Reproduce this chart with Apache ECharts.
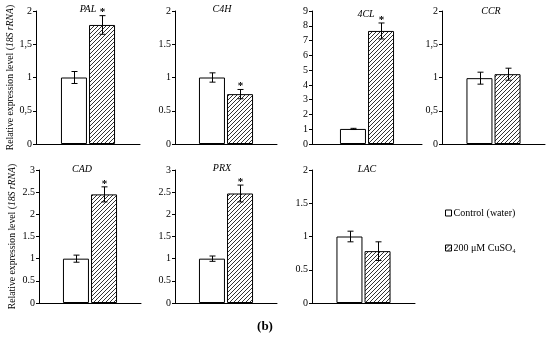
<!DOCTYPE html>
<html><head><meta charset="utf-8">
<script src="https://cdn.jsdelivr.net/npm/echarts@6/dist/echarts.min.js"></script>
<style>html,body{margin:0;padding:0;background:#fff}#c{width:550px;height:339px}</style>
</head><body><div id="c"></div>
<script>
// ---- data ----
const genes = ['PAL', 'C4H', '4CL', 'CCR', 'CAD', 'PRX', 'LAC'];
const control = [1.00, 1.00, 1.02, 0.99, 1.00, 1.00, 1.00];
const controlErr = [0.09, 0.07, 0.04, 0.09, 0.08, 0.06, 0.08];
const treated = [1.79, 0.75, 7.65, 1.05, 2.45, 2.47, 0.78];
const treatedErr = [0.14, 0.07, 0.54, 0.09, 0.17, 0.19, 0.14];
const significant = [1, 1, 1, 0, 1, 1, 0];
const yMax = [2, 2, 9, 2, 3, 3, 2];
const yInterval = [0.5, 0.5, 1, 0.5, 0.5, 0.5, 0.5];
const decimalSep = [',', '.', '.', ',', '.', '.', '.'];
const seriesNames = ['Control (water)', '200 μM CuSO₄'];
const yLabel = ['Relative expression level (', '18S rRNA', ')'];
const panelLabel = '(b)';

// ---- layout ----
const grids = [
  {left: 36, top: 11, width: 104, height: 133},
  {left: 175, top: 11, width: 102, height: 133},
  {left: 312, top: 11, width: 110, height: 133},
  {left: 442, top: 11, width: 103, height: 133},
  {left: 39, top: 170, width: 102, height: 133},
  {left: 175, top: 170, width: 102, height: 133},
  {left: 312, top: 170, width: 103, height: 133}
];
const titlePos = [[88, 4], [222, 4], [366, 9], [491, 6], [82, 164], [222, 163], [367, 164]];
const FONT = '"Liberation Serif", "DejaVu Serif", serif';
const BW = 26, HALF = 14;

function hatch() {
  const c = document.createElement('canvas');
  c.width = 4; c.height = 4;
  const ctx = c.getContext('2d');
  ctx.fillStyle = '#fff'; ctx.fillRect(0, 0, 4, 4);
  ctx.strokeStyle = '#333'; ctx.lineWidth = 1;
  ctx.beginPath();
  ctx.moveTo(0, 4); ctx.lineTo(4, 0);
  ctx.moveTo(-1, 1); ctx.lineTo(1, -1);
  ctx.moveTo(3, 5); ctx.lineTo(5, 3);
  ctx.stroke();
  return c;
}
const hatchFill = {image: hatch(), repeat: 'repeat'};

const option = {
  animation: false,
  backgroundColor: '#fff',
  title: genes.map((g, i) => ({
    text: g, left: titlePos[i][0], top: titlePos[i][1], textAlign: 'center', padding: 0,
    textStyle: {fontFamily: FONT, fontStyle: 'italic', fontWeight: 'normal', fontSize: 10, color: '#000'}
  })).concat([{
    text: panelLabel, left: 265, top: 320, textAlign: 'center', padding: 0,
    textStyle: {fontFamily: FONT, fontWeight: 'bold', fontSize: 13, color: '#000'}
  }]),
  legend: {
    orient: 'vertical', left: 445, top: 208, itemGap: 25, padding: 0,
    itemWidth: 6, itemHeight: 6, icon: 'rect',
    data: seriesNames,
    textStyle: {fontFamily: FONT, fontSize: 10, color: '#000', padding: [0, 0, 0, -3]},
    itemStyle: {borderColor: '#000', borderWidth: 1}
  },
  grid: grids,
  xAxis: grids.map((g, i) => ({
    type: 'category', gridIndex: i, data: [genes[i]],
    axisLine: {lineStyle: {color: '#000', width: 1}},
    axisTick: {show: false}, axisLabel: {show: false}
  })),
  yAxis: grids.map((g, i) => {
    const ax = {
      type: 'value', gridIndex: i, min: 0, max: yMax[i], interval: yInterval[i],
      axisLine: {show: true, lineStyle: {color: '#000', width: 1}},
      axisTick: {show: true, length: 3, lineStyle: {color: '#000'}},
      splitLine: {show: false},
      axisLabel: {fontFamily: FONT, fontSize: 10, color: '#000', margin: 4,
        formatter: v => String(v).replace('.', decimalSep[i])}
    };
    if (i === 0 || i === 4) {
      ax.name = '{a|' + yLabel[0] + '}{b|' + yLabel[1] + '}{a|' + yLabel[2] + '}';
      ax.nameLocation = 'middle';
      ax.nameRotate = 90;
      ax.nameGap = i === 0 ? 19 : 22;
      ax.nameTextStyle = {rich: {
        a: {fontFamily: FONT, fontSize: 9.7, color: '#000'},
        b: {fontFamily: FONT, fontSize: 9.7, color: '#000', fontStyle: 'italic'}
      }};
    }
    return ax;
  }),
  series: []
};

genes.forEach((g, i) => {
  option.series.push({
    type: 'bar', name: seriesNames[0], xAxisIndex: i, yAxisIndex: i,
    data: [control[i]], barWidth: BW, barGap: '8%',
    itemStyle: {color: '#fff', borderColor: '#000', borderWidth: 1}
  });
  option.series.push({
    type: 'bar', name: seriesNames[1], xAxisIndex: i, yAxisIndex: i,
    data: [treated[i]], barWidth: BW, barGap: '8%',
    itemStyle: {color: hatchFill, borderColor: '#000', borderWidth: 1}
  });
  option.series.push({
    type: 'custom', name: 'err' + i, xAxisIndex: i, yAxisIndex: i, z: 5,
    data: [[0, control[i], controlErr[i], -1, 0], [0, treated[i], treatedErr[i], 1, significant[i]]],
    renderItem: function (params, api) {
      const v = api.value(1), e = api.value(2), side = api.value(3), sig = api.value(4);
      const c = api.coord([api.value(0), v]);
      const x = Math.round(c[0] + side * HALF) + 0.5;
      const top = api.coord([0, v + e])[1];
      const bot = api.coord([0, v - e])[1];
      const ls = {stroke: '#000', lineWidth: 1};
      const ch = [
        {type: 'line', shape: {x1: x, y1: top, x2: x, y2: bot}, style: ls},
        {type: 'line', shape: {x1: x - 3, y1: top, x2: x + 3, y2: top}, style: ls},
        {type: 'line', shape: {x1: x - 3, y1: bot, x2: x + 3, y2: bot}, style: ls}
      ];
      if (sig) {
        ch.push({type: 'text', x: x, y: top - 3, style: {text: '*', fill: '#000',
          font: 'bold 11px ' + FONT, textAlign: 'center', textVerticalAlign: 'middle'}});
      }
      return {type: 'group', children: ch};
    }
  });
});

const chart = echarts.init(document.getElementById('c'), null, {renderer: 'canvas'});
chart.setOption(option);
</script>
</body></html>
